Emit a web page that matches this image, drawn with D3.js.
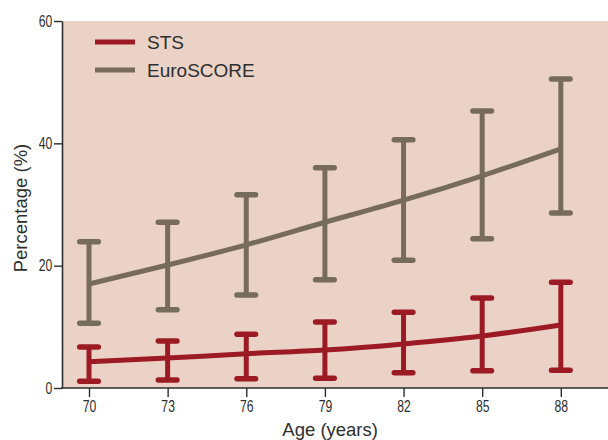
<!DOCTYPE html>
<html>
<head>
<meta charset="utf-8">
<script src="https://cdn.jsdelivr.net/npm/d3@7"></script>
<style>
  body { margin: 0; background: #fff; }
  text { font-family: "Liberation Sans", Arial, sans-serif; fill: #2e2e2e; }
</style>
</head>
<body>
<svg id="chart" width="608" height="440"></svg>
<script>
// ages on the x axis
const ages = [70, 73, 76, 79, 82, 85, 88]
const yTicks = [0, 20, 40, 60]

// STS predicted mortality: mean, lower, upper
const stsMean = [4.3, 4.9, 5.6, 6.2, 7.2, 8.5, 10.3]
const stsLow = [1.1, 1.3, 1.5, 1.6, 2.5, 2.8, 2.9]
const stsHigh = [6.7, 7.7, 8.8, 10.8, 12.4, 14.7, 17.3]

// EuroSCORE
const euroMean = [17.0, 20.1, 23.4, 27.1, 30.7, 34.7, 39.1]
const euroLow = [10.6, 12.8, 15.2, 17.7, 20.9, 24.4, 28.6]
const euroHigh = [23.9, 27.1, 31.6, 36.0, 40.6, 45.3, 50.5]

const seriesNames = ['STS', 'EuroSCORE']
const seriesColors = ['#9c1a24', '#776b5d']

const svg = d3.select('#chart')
const padding = { left: 62, top: 21, right: 0, bottom: 52 }
const width = 608 - padding.left - padding.right
const height = 440 - padding.top - padding.bottom

const xScale = d3.scaleLinear().domain([68.97, 89.8]).range([0, width])
const yScale = d3.scaleLinear().domain([0, 60]).range([height, 0])

const g = svg.append('g')
  .attr('transform', 'translate(' + padding.left + ',' + padding.top + ')')

g.append('rect')
  .attr('width', width)
  .attr('height', height)
  .attr('fill', '#ebd2c6')

const series = [
  { name: seriesNames[0], color: seriesColors[0], mean: stsMean, low: stsLow, high: stsHigh },
  { name: seriesNames[1], color: seriesColors[1], mean: euroMean, low: euroLow, high: euroHigh }
]

const line = d3.line()
  .x((d, i) => xScale(ages[i]))
  .y(d => yScale(d))
  .curve(d3.curveMonotoneX)

series.slice().reverse().forEach(s => {
  const bars = g.append('g')
  const capW = 9.3
  ages.forEach((a, i) => {
    const x = xScale(a)
    bars.append('line')
      .attr('x1', x).attr('x2', x)
      .attr('y1', yScale(s.low[i])).attr('y2', yScale(s.high[i]))
      .attr('stroke', s.color).attr('stroke-width', 5)
    ;[s.low[i], s.high[i]].forEach(v => {
      bars.append('line')
        .attr('x1', x - capW).attr('x2', x + capW)
        .attr('y1', yScale(v)).attr('y2', yScale(v))
        .attr('stroke', s.color).attr('stroke-width', 5.5)
        .attr('stroke-linecap', 'round')
    })
  })
  g.append('path')
    .datum(s.mean)
    .attr('d', line)
    .attr('fill', 'none')
    .attr('stroke', s.color)
    .attr('stroke-width', 5)
})

// axes
const xAxis = g.append('g')
  .attr('transform', 'translate(0,' + height + ')')
  .call(d3.axisBottom(xScale).tickValues(ages).tickSize(9).tickPadding(3).tickSizeOuter(0))
const yAxis = g.append('g')
  .call(d3.axisLeft(yScale).tickValues(yTicks).tickSize(8).tickPadding(5.2).tickSizeOuter(0))

;[xAxis, yAxis].forEach(a => {
  a.attr('font-size', null).attr('font-family', null)
  a.select('.domain').attr('stroke', '#2e2e2e').attr('stroke-width', 1.6)
  a.selectAll('.tick line').attr('stroke', '#2e2e2e').attr('stroke-width', 1.4)
  // narrow digits like the original
  a.selectAll('.tick text')
    .style('font-size', '16.5px')
    .style('font-family', '"Liberation Sans", Arial, sans-serif')
    .attr('fill', '#333')
    .attr('transform', 'scale(0.74,1)')
})
xAxis.select('.domain').attr('d', 'M' + (-1) + ',0H' + width)

svg.append('text')
  .attr('x', padding.left + xScale(79.2))
  .attr('y', 436)
  .attr('text-anchor', 'middle')
  .style('font-size', '18.5px')
  .text('Age (years)')

svg.append('text')
  .attr('transform', 'translate(27,208) rotate(-90)')
  .attr('text-anchor', 'middle')
  .style('font-size', '18.5px')
  .text('Percentage (%)')

// legend
const legend = svg.append('g').attr('transform', 'translate(95,42)')
series.forEach((s, i) => {
  const row = legend.append('g').attr('transform', 'translate(0,' + (i * 28) + ')')
  row.append('line')
    .attr('x1', 0).attr('x2', 40)
    .attr('stroke', s.color).attr('stroke-width', 5)
  row.append('text')
    .attr('x', 52).attr('y', 6.8)
    .style('font-size', '19px')
    .text(s.name)
})
</script>
</body>
</html>
